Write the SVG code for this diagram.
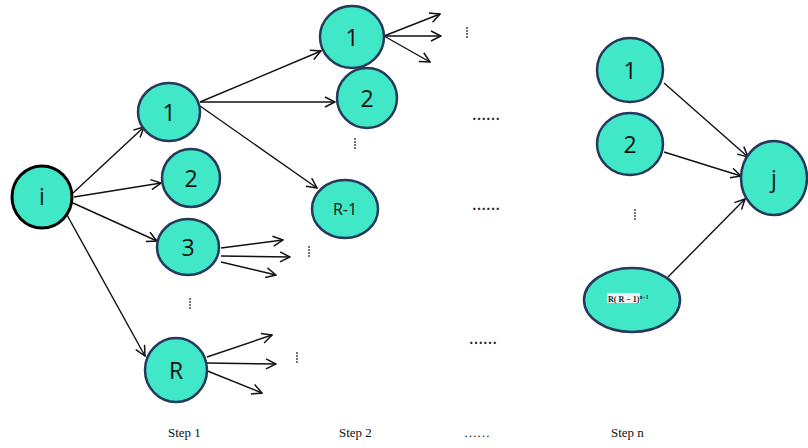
<svg xmlns="http://www.w3.org/2000/svg" width="808" height="448" viewBox="0 0 808 448">
  <defs>
    <marker id="arr" viewBox="0 0 12 12" refX="11" refY="6" markerWidth="12" markerHeight="12" markerUnits="userSpaceOnUse" orient="auto">
      <path d="M1,1 L11,6 L1,11" fill="none" stroke="#111" stroke-width="1.5"/>
    </marker>
  </defs>
  <style>
    .node { fill: #40E8C8; stroke: #26395C; stroke-width: 2.5; }
    .start { fill: #40E8C8; stroke: #000; stroke-width: 3; }
    .lbl { font-family: "Open Sans", "Noto Sans", sans-serif; font-size: 23px; fill: #111; text-anchor: middle; }
    .small { font-size: 16px; }
    .edge { stroke: #111; stroke-width: 1.4; fill: none; marker-end: url(#arr); }
    .step { font-family: "Liberation Serif", serif; font-size: 13px; fill: #111; }
    .hdots { font-family: "Liberation Serif", serif; font-size: 14px; font-weight: bold; fill: #222; }
    .vdot { fill: #334; }
  </style>
  <rect width="808" height="448" fill="#fff"/>

  <!-- connectors -->
  <g id="edges">
    <!-- from i -->
    <line class="edge" x1="73" y1="193" x2="144" y2="127"/>
    <line class="edge" x1="74" y1="197" x2="161" y2="183"/>
    <line class="edge" x1="73" y1="203" x2="157" y2="241"/>
    <line class="edge" x1="67" y1="215" x2="145" y2="356"/>
    <!-- from step-1 node 1 -->
    <line class="edge" x1="200" y1="102" x2="321" y2="51"/>
    <line class="edge" x1="200" y1="102" x2="335" y2="102"/>
    <line class="edge" x1="200" y1="106" x2="317" y2="188"/>
    <!-- fan-out from step-2 node 1 -->
    <line class="edge" x1="384" y1="36" x2="440" y2="14"/>
    <line class="edge" x1="384" y1="36" x2="441" y2="36"/>
    <line class="edge" x1="384" y1="36" x2="430" y2="62"/>
    <!-- fan-out from node 3 -->
    <line class="edge" x1="221" y1="248" x2="283" y2="240"/>
    <line class="edge" x1="221" y1="256" x2="290" y2="257"/>
    <line class="edge" x1="221" y1="262" x2="276" y2="275"/>
    <!-- fan-out from node R -->
    <line class="edge" x1="207" y1="357" x2="272" y2="335"/>
    <line class="edge" x1="207" y1="363" x2="276" y2="364"/>
    <line class="edge" x1="205" y1="370" x2="262" y2="393"/>
    <!-- into j -->
    <line class="edge" x1="664" y1="83" x2="748" y2="157"/>
    <line class="edge" x1="664" y1="152" x2="741" y2="176"/>
    <line class="edge" x1="668" y1="277" x2="745" y2="199"/>
  </g>

  <!-- start node -->
  <g id="node-i">
    <ellipse class="start" cx="42" cy="197" rx="30" ry="31"/>
    <text class="lbl" x="42" y="205">i</text>
  </g>

  <!-- step 1 -->
  <g id="s1-1">
    <ellipse class="node" cx="169" cy="112" rx="31" ry="29"/>
    <text class="lbl" x="169" y="121">1</text>
  </g>
  <g id="s1-2">
    <ellipse class="node" cx="191" cy="178" rx="29" ry="29"/>
    <text class="lbl" x="191" y="187">2</text>
  </g>
  <g id="s1-3">
    <ellipse class="node" cx="188" cy="247" rx="31" ry="28"/>
    <text class="lbl" x="188" y="256">3</text>
  </g>
  <g id="s1-R">
    <ellipse class="node" cx="176" cy="370" rx="31" ry="32"/>
    <text class="lbl" x="176" y="379">R</text>
  </g>

  <!-- step 2 -->
  <g id="s2-1">
    <ellipse class="node" cx="352" cy="37" rx="32" ry="31"/>
    <text class="lbl" x="352" y="46">1</text>
  </g>
  <g id="s2-2">
    <ellipse class="node" cx="367" cy="98" rx="30" ry="30"/>
    <text class="lbl" x="367" y="107">2</text>
  </g>
  <g id="s2-R1">
    <ellipse class="node" cx="345" cy="209" rx="33" ry="29"/>
    <text class="lbl small" x="345" y="215">R-1</text>
  </g>

  <!-- step n -->
  <g id="sn-1">
    <ellipse class="node" cx="630" cy="70" rx="33" ry="32"/>
    <text class="lbl" x="630" y="79">1</text>
  </g>
  <g id="sn-2">
    <ellipse class="node" cx="630" cy="144" rx="33" ry="31"/>
    <text class="lbl" x="630" y="153">2</text>
  </g>
  <g id="sn-last">
    <ellipse class="node" cx="632" cy="300" rx="48" ry="32"/>
    <rect x="607" y="293" width="33" height="10" fill="#eef6f4"/>
    <text x="608" y="301.5" font-family="Liberation Serif, serif" font-size="8" font-weight="bold" fill="#222">R( R − 1)<tspan font-size="5.5" dy="-3">n−1</tspan></text>
  </g>
  <g id="node-j">
    <ellipse class="node" cx="774" cy="178" rx="33" ry="37"/>
    <text class="lbl" x="774" y="187">j</text>
  </g>

  <!-- vertical ellipsis marks -->
  <g id="vdots">
    <g transform="translate(467,28)"><circle class="vdot" cx="0" cy="0" r="0.9"/><circle class="vdot" cx="0" cy="3" r="0.9"/><circle class="vdot" cx="0" cy="6" r="0.9"/><circle class="vdot" cx="0" cy="9" r="0.9"/></g>
    <g transform="translate(355,139)"><circle class="vdot" cx="0" cy="0" r="0.9"/><circle class="vdot" cx="0" cy="3" r="0.9"/><circle class="vdot" cx="0" cy="6" r="0.9"/><circle class="vdot" cx="0" cy="9" r="0.9"/></g>
    <g transform="translate(190,299)"><circle class="vdot" cx="0" cy="0" r="0.9"/><circle class="vdot" cx="0" cy="3" r="0.9"/><circle class="vdot" cx="0" cy="6" r="0.9"/><circle class="vdot" cx="0" cy="9" r="0.9"/></g>
    <g transform="translate(309,247)"><circle class="vdot" cx="0" cy="0" r="0.9"/><circle class="vdot" cx="0" cy="3" r="0.9"/><circle class="vdot" cx="0" cy="6" r="0.9"/><circle class="vdot" cx="0" cy="9" r="0.9"/></g>
    <g transform="translate(297,353)"><circle class="vdot" cx="0" cy="0" r="0.9"/><circle class="vdot" cx="0" cy="3" r="0.9"/><circle class="vdot" cx="0" cy="6" r="0.9"/><circle class="vdot" cx="0" cy="9" r="0.9"/></g>
    <g transform="translate(635,210)"><circle class="vdot" cx="0" cy="0" r="0.9"/><circle class="vdot" cx="0" cy="3" r="0.9"/><circle class="vdot" cx="0" cy="6" r="0.9"/><circle class="vdot" cx="0" cy="9" r="0.9"/></g>
  </g>

  <!-- horizontal ellipsis marks -->
  <g id="hdots">
    <text class="hdots" x="472" y="120">……</text>
    <text class="hdots" x="472" y="210">……</text>
    <text class="hdots" x="469" y="344">……</text>
  </g>

  <!-- step captions -->
  <g id="captions">
    <text class="step" x="168" y="437">Step 1</text>
    <text class="step" x="339" y="437">Step 2</text>
    <text class="step" x="464" y="437" fill="#555">……</text>
    <text class="step" x="611" y="437">Step n</text>
  </g>
</svg>
